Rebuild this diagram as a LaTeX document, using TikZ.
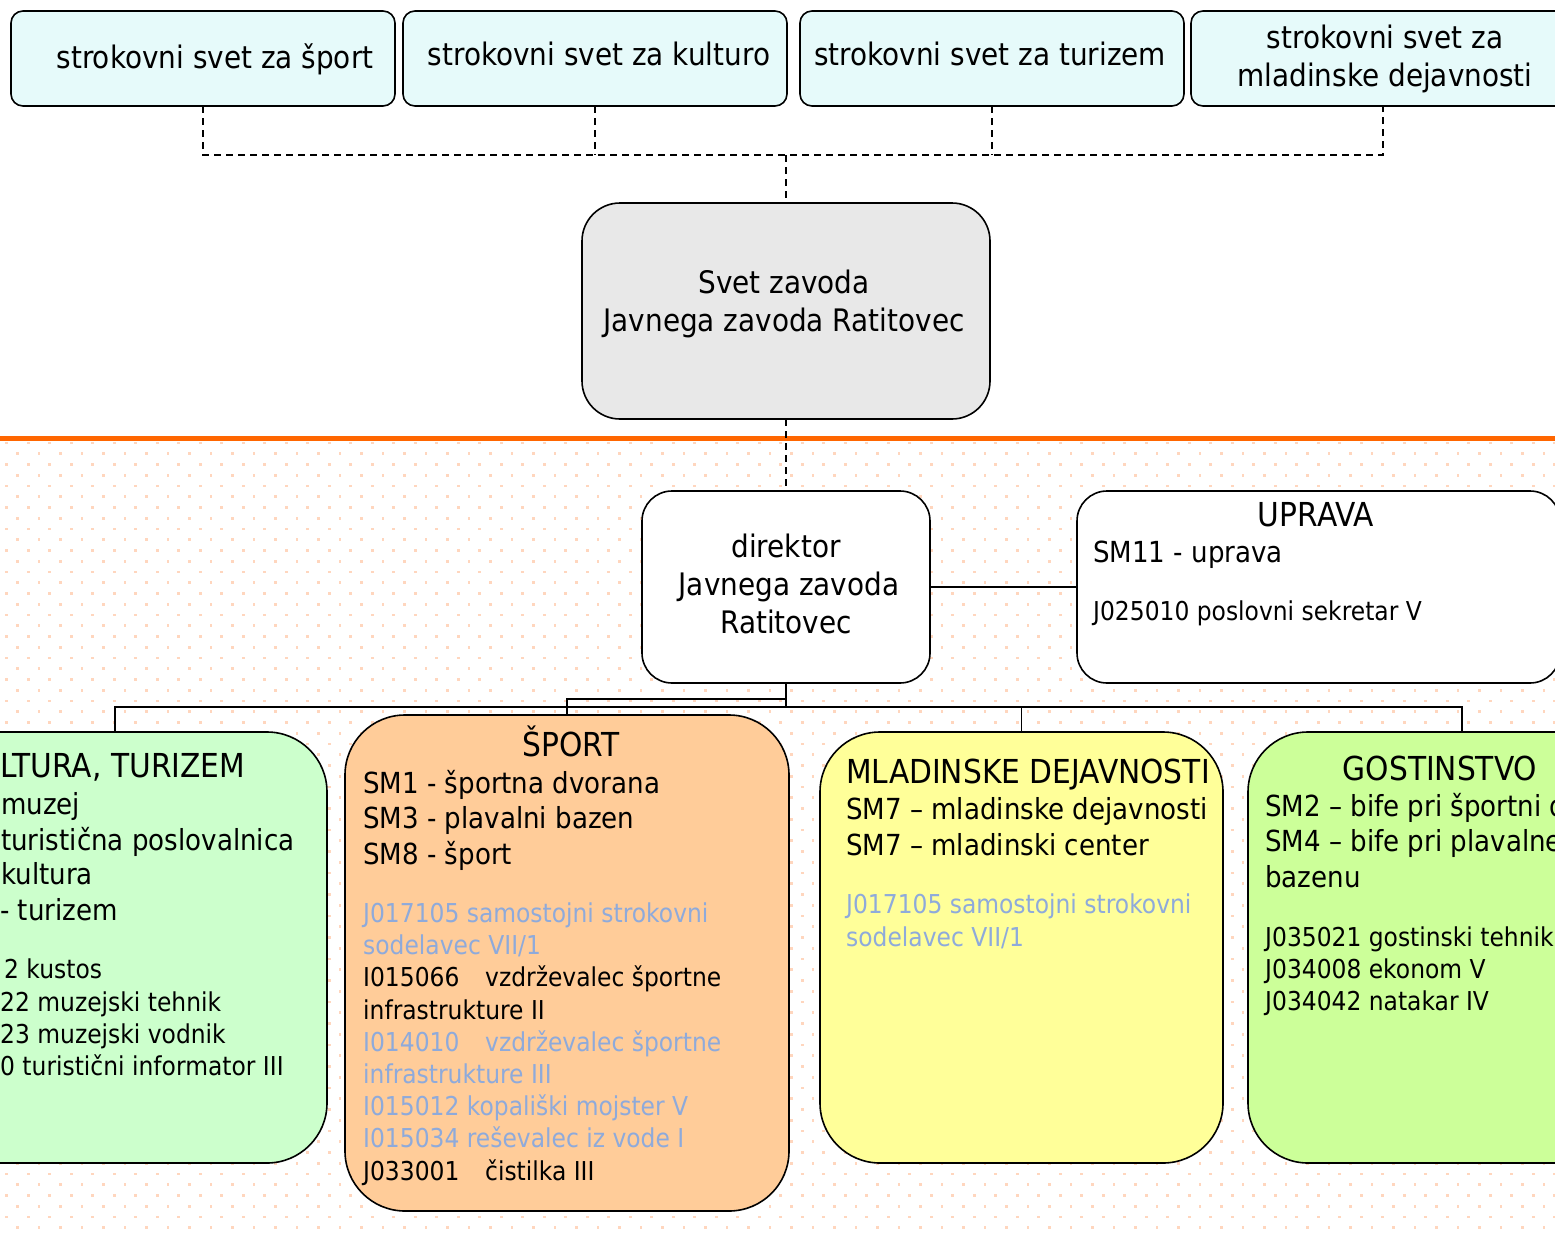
\documentclass[tikz,border=0pt]{standalone}
\usepackage{fontspec}
\setmainfont{DejaVu Sans}[FakeStretch=0.9]
\definecolor{topfill}{HTML}{E6FAFA}
\definecolor{svetfill}{HTML}{E8E8E8}
\definecolor{orangeline}{HTML}{FF6600}
\definecolor{dotcol}{HTML}{FFD6BE}
\definecolor{kultfill}{HTML}{CCFFCC}
\definecolor{sportfill}{HTML}{FFCC99}
\definecolor{mladfill}{HTML}{FFFF99}
\definecolor{gostfill}{HTML}{CCFF99}
\definecolor{bluetext}{HTML}{8EAADB}
\newcommand\fbig{\fontsize{31}{38}\selectfont}
\newcommand\fhead{\fontsize{33}{40}\selectfont}
\newcommand\fmid{\fontsize{29}{35.5}\selectfont}
\newcommand\fsml{\fontsize{26}{32.3}\selectfont}
\begin{document}
\begin{tikzpicture}[x=1pt,y=-1pt,
  box/.style={draw=black, line width=1.6pt, outer sep=0pt, inner sep=0pt},
  topbox/.style={box, rounded corners=12pt, fill=topfill, minimum width=384pt, minimum height=95pt},
  bigbox/.style={box, rounded corners=60pt, minimum height=431pt},
  conn/.style={draw=black, line width=1.8pt},
  dconn/.style={draw=black, line width=1.5pt, dash pattern=on 7pt off 5pt},
  tb/.style={inner sep=0pt, anchor=base, font=\fbig},
  th/.style={inner sep=0pt, anchor=base, font=\fhead},
  tw/.style={inner sep=0pt, anchor=base west},
  blu/.style={text=bluetext}]
\useasboundingbox (0,0) rectangle (1555,1234);
\fill[white] (0,0) rectangle (1555,1234);
\clip (0,0) rectangle (1555,1234);
% dotted background
\foreach \r in {0,...,73}{
  \pgfmathsetmacro\yy{443+\r*10.75}
  \pgfmathsetmacro\xo{mod(\r,2)*10.75+6.7}
  \foreach \c in {0,...,72}{
    \pgfmathsetmacro\xx{\xo+\c*21.5}
    \fill[dotcol] (\xx-1.4,\yy-1.4) rectangle (\xx+1.4,\yy+1.4);
  }
}
\fill[orangeline] (0,436) rectangle (1555,440.5);

% top boxes
\node[topbox] (top1) at (203,58.5) {};
\node[topbox] (top2) at (595,58.5) {};
\node[topbox] (top3) at (992,58.5) {};
\node[topbox] (top4) at (1383,58.5) {};
\node[tb] (t1) at (215,68) {strokovni svet za šport};
\node[tb] (t2) at (599,65) {strokovni svet za kulturo};
\node[tb] (t3) at (990,65) {strokovni svet za turizem};
\node[tb] (t4a) at (1385,48) {strokovni svet za};
\node[tb] (t4b) at (1385,86) {mladinske dejavnosti};

% Svet zavoda
\node[box, rounded corners=38pt, fill=svetfill, minimum width=408pt, minimum height=216pt] (svet) at (786,311) {};
\node[tb] (svet1) at (784,293) {Svet zavoda};
\node[tb] (svet2) at (784,331) {Javnega zavoda Ratitovec};

% director and uprava
\node[box, rounded corners=30pt, fill=white, minimum width=288pt, minimum height=192pt] (dir) at (786,587) {};
\node[tb] (dir1) at (786,557) {direktor};
\node[tb] (dir2) at (789,595) {Javnega zavoda};
\node[tb] (dir3) at (786,633) {Ratitovec};
\node[box, rounded corners=30pt, fill=white, minimum width=483pt, minimum height=192pt] (upr) at (1318.5,587) {};
\node[th] (upr1) at (1316,526) {UPRAVA};
\node[tw, font=\fmid] (upr2) at (1093,562.5) {SM11 - uprava};
\node[tw, font=\fsml] (upr3) at (1093,620.4) {J025010 poslovni sekretar V};

% bottom boxes
\node[bigbox, fill=kultfill, minimum width=424pt] (kult) at (115,947.5) {};
\node[box, rounded corners=60pt, fill=sportfill, minimum width=444pt, minimum height=496pt] (sport) at (567,963) {};
\node[bigbox, fill=mladfill, minimum width=403pt] (mlad) at (1021.5,947.5) {};
\node[bigbox, fill=gostfill, minimum width=428pt] (gost) at (1462,947.5) {};

% kultura text (as far as it is visible at the left edge)
\node[tw, font=\fhead] (k0) at (0,777) {LTURA, TURIZEM};
\node[tw, font=\fmid] (k1) at (1,814.5) {muzej};
\node[tw, font=\fmid] (k2) at (1,850.5) {turistična poslovalnica};
\node[tw, font=\fmid] (k3) at (1,884.5) {kultura};
\node[tw, font=\fmid] (k4) at (0,920.5) {- turizem};
\node[tw, font=\fsml] (k5) at (4,978.4) {2 kustos};
\node[tw, font=\fsml] (k6) at (0,1011.4) {22 muzejski tehnik};
\node[tw, font=\fsml] (k7) at (0,1043.4) {23 muzejski vodnik};
\node[tw, font=\fsml] (k8) at (0,1075.4) {0 turistični informator III};

% sport text
\node[th] (s0) at (571,756) {ŠPORT};
\node[tw, font=\fmid] (s1) at (363,793.5) {SM1 - športna dvorana};
\node[tw, font=\fmid] (s2) at (363,828.5) {SM3 - plavalni bazen};
\node[tw, font=\fmid] (s3) at (363,864.5) {SM8 - šport};
\node[tw, font=\fsml, blu] (s4) at (363,922.4) {J017105 samostojni strokovni};
\node[tw, font=\fsml, blu] (s5) at (363,954.4) {sodelavec VII/1};
\node[tw, font=\fsml] (s6) at (363,986.4) {\makebox[122pt][l]{I015066}vzdrževalec športne};
\node[tw, font=\fsml] (s7) at (363,1019.4) {infrastrukture II};
\node[tw, font=\fsml, blu] (s8) at (363,1051.4) {\makebox[122pt][l]{I014010}vzdrževalec športne};
\node[tw, font=\fsml, blu] (s9) at (363,1083.4) {infrastrukture III};
\node[tw, font=\fsml, blu] (s10) at (363,1115.4) {I015012 kopališki mojster V};
\node[tw, font=\fsml, blu] (s11) at (363,1147.4) {I015034 reševalec iz vode I};
\node[tw, font=\fsml] (s12) at (363,1180.4) {\makebox[122pt][l]{J033001}čistilka III};

% mladinske text
\node[tw, font=\fhead] (m0) at (846,783) {MLADINSKE DEJAVNOSTI};
\node[tw, font=\fmid] (m1) at (846,819.5) {SM7 – mladinske dejavnosti};
\node[tw, font=\fmid] (m2) at (846,855.5) {SM7 – mladinski center};
\node[tw, font=\fsml, blu] (m3) at (846,913.4) {J017105 samostojni strokovni};
\node[tw, font=\fsml, blu] (m4) at (846,946.4) {sodelavec VII/1};

% gostinstvo text
\node[th] (g0) at (1440,780) {GOSTINSTVO};
\node[tw, font=\fmid] (g1) at (1265,816.5) {SM2 – bife pri športni d};
\node[tw, font=\fmid] (g2) at (1265,851.5) {SM4 – bife pri plavalne};
\node[tw, font=\fmid] (g3) at (1265,887.5) {bazenu};
\node[tw, font=\fsml] (g4) at (1265,946.4) {J035021 gostinski tehnik};
\node[tw, font=\fsml] (g5) at (1265,978.4) {J034008 ekonom V};
\node[tw, font=\fsml] (g6) at (1265,1010.4) {J034042 natakar IV};

% dashed connectors
\coordinate (dbus) at (786,155);
\draw[dconn] (top1.south) |- (top4.south |- dbus) -- (top4.south);
\draw[dconn] (top2.south) -- (top2.south |- dbus);
\draw[dconn] (top3.south) -- (top3.south |- dbus);
\draw[dconn] (dbus) -- (svet.north);
\draw[dconn] (svet.south) -- (dir.north);

% solid connectors
\coordinate (sbus) at (786,707);
\coordinate (sjoin) at (786,699);
\draw[conn] (dir.south) -- (sbus);
\draw[conn] (kult.north) |- (gost.north |- sbus) -- (gost.north);
\draw[conn] (mlad.north) -- (mlad.north |- sbus);
\draw[conn] (sjoin) -| (sport.north);
\draw[conn] (dir.east) -- (upr.west);
\end{tikzpicture}
\end{document}
